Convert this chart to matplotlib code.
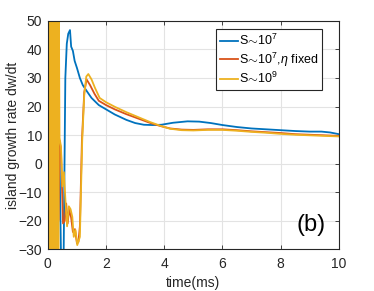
import numpy as np
import matplotlib
matplotlib.use('Agg')
import matplotlib.pyplot as plt

plt.rcParams['font.family'] = ['Liberation Sans', 'DejaVu Sans']
plt.rcParams['mathtext.fontset'] = 'custom'
plt.rcParams['mathtext.rm'] = 'Liberation Sans'
plt.rcParams['mathtext.it'] = 'Liberation Sans:italic'

# --- data ---
t_blue = [0.0, 0.05, 0.1, 0.15, 0.2, 0.25, 0.3, 0.35, 0.40, 0.47, 0.53, 0.60, 0.65, 0.70,
          0.76, 0.80, 0.86, 0.92, 1.0, 1.1, 1.2, 1.33, 1.5, 1.75, 2.0, 2.3, 2.7, 3.0,
          3.3, 3.6, 3.9, 4.3, 4.8, 5.2, 5.6, 6.0, 6.5, 7.0, 7.5, 8.0, 8.5, 9.0, 9.4,
          9.7, 10.0]
s7 = [20, -10, 30, -5, 25, -15, 20, -8, 2, -45, -45, 30, 42, 45.5,
      46.8, 41, 39.5, 36, 33.5, 30, 27.5, 25.5, 23, 20.5, 19, 17.2, 15.3, 14.2,
      13.6, 13.5, 13.6, 14.3, 14.8, 14.7, 14.2, 13.5, 12.8, 12.3, 12.0, 11.7, 11.4, 11.2, 11.2,
      10.9, 10.3]

t_red = [0.0, 0.03, 0.06, 0.09, 0.12, 0.15, 0.18, 0.21, 0.24, 0.27, 0.30, 0.33, 0.36,
         0.40, 0.45, 0.52, 0.58, 0.63, 0.68, 0.73, 0.80, 0.86, 0.93, 1.0, 1.05, 1.1,
         1.17, 1.25, 1.33, 1.45, 1.6, 1.75, 2.0, 2.3, 2.7, 3.1, 3.5, 3.85, 4.2, 4.6,
         5.0, 5.5, 6.0, 6.5, 7.0, 7.5, 8.0, 8.5, 9.0, 9.5, 10.0]
s7_eta = [0, 55, -40, 50, -38, 52, -35, 48, -36, 45, -33, 40, -20,
          8, 5, -21, -20, -14, -21, -16, -19, -24, -23, -28, -27.5, -22,
          8, 25, 29.5, 27.5, 24.5, 22, 20.5, 19, 17.3, 15.8, 14.3, 13.2, 12.3, 11.9,
          11.8, 12.0, 12.0, 11.7, 11.3, 11.0, 10.7, 10.3, 10.1, 9.9, 9.7]

t_yel = [0.0, 0.015, 0.03, 0.045, 0.06, 0.075, 0.09, 0.105, 0.12, 0.135, 0.15, 0.165,
         0.18, 0.195, 0.21, 0.225, 0.24, 0.255, 0.27, 0.285, 0.30, 0.315, 0.33, 0.345,
         0.36, 0.375, 0.40, 0.45, 0.50, 0.55, 0.61, 0.66, 0.72, 0.78, 0.84, 0.89, 0.95, 1.01,
         1.06, 1.1, 1.18, 1.25, 1.32, 1.39, 1.5, 1.62, 1.78, 2.0, 2.3, 2.7, 3.1, 3.5,
         3.85, 4.2, 4.6, 5.0, 5.5, 6.0, 6.5, 7.0, 7.5, 8.0, 8.5, 9.0, 9.5, 10.0]
s9 = [0, 60, -45, 58, -42, 62, -40, 57, -44, 60, -38, 55, -41, 58, -39, 56, -37, 54,
      -40, 52, -36, 55, -34, 50, -32, 60, 9, 6, -8, -3, -14, -22, -15, -16, -18.7, -25.7,
      -23.3, -28.6, -27, -25.7, 8, 24, 30.5, 31.4, 29.5, 26.5, 23, 21.5, 19.9, 18.0,
      16.3, 14.6, 13.3, 12.2, 11.7, 11.6, 11.8, 11.8, 11.5, 11.1, 10.8, 10.4, 10.1,
      9.9, 9.7, 9.5]

labels = [r'S$\!{\sim}\!$10$^7$', r'S$\!{\sim}\!$10$^7$,$\eta$ fixed', r'S$\!{\sim}\!$10$^9$']
colors = ['#0072BD', '#D95319', '#EDB120']

fig = plt.figure(figsize=(3.74, 2.91), dpi=100)
ax = fig.add_axes([0.128, 0.144, 0.778, 0.784])

ax.plot(t_blue, s7, color=colors[0], lw=1.3, label=labels[0])
ax.plot(t_red, s7_eta, color=colors[1], lw=1.3, label=labels[1])
ax.plot(t_yel, s9, color=colors[2], lw=1.3, label=labels[2])

ax.set_xlim(0, 10)
ax.set_ylim(-30, 50)
ax.set_xticks([0, 2, 4, 6, 8, 10])
ax.set_yticks(np.arange(-30, 51, 10))
ax.grid(True, color='#e3e3e3', lw=0.8)
ax.set_axisbelow(True)
for sp in ax.spines.values():
    sp.set_color('#262626')
    sp.set_linewidth(0.8)
ax.tick_params(direction='in', top=True, right=True, length=3, width=0.6,
               colors='#262626', labelsize=10)
ax.tick_params(axis='x', pad=6)
ax.tick_params(axis='y', pad=4)
ax.set_xlabel('time(ms)', fontsize=10, color='#262626', labelpad=3)
ax.set_ylabel('island growth rate dw/dt', fontsize=10, color='#262626', labelpad=-1)

leg = ax.legend(loc='upper left', bbox_to_anchor=(0.577, 0.965), fontsize=9,
                handlelength=1.5, handletextpad=0.05, borderpad=0.3, labelspacing=0.2,
                fancybox=False, framealpha=1, edgecolor='#262626', borderaxespad=0)
leg.get_frame().set_linewidth(0.8)

ax.text(9.55, -21.5, '(b)', fontsize=17, ha='right', va='center', color='black')

fig.savefig('out.png', dpi=100)
